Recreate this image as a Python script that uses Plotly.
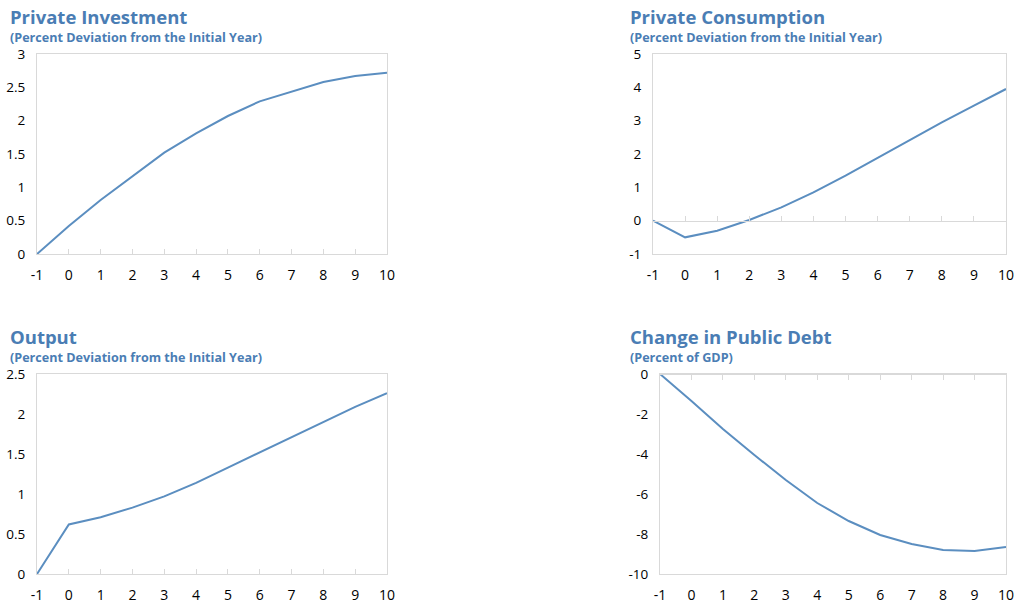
import plotly.graph_objects as go

years = [-1, 0, 1, 2, 3, 4, 5, 6, 7, 8, 9, 10]
year_labels = ["-1", "0", "1", "2", "3", "4", "5", "6", "7", "8", "9", "10"]
investment = [0, 0.42, 0.81, 1.17, 1.52, 1.81, 2.07, 2.29, 2.44, 2.58, 2.67, 2.72]
consumption = [0, -0.5, -0.3, 0.02, 0.4, 0.85, 1.35, 1.88, 2.42, 2.95, 3.45, 3.95]
output = [0, 0.62, 0.71, 0.83, 0.97, 1.14, 1.33, 1.52, 1.72, 1.91, 2.09, 2.26]
debt = [0, -1.35, -2.75, -4.05, -5.3, -6.45, -7.35, -8.05, -8.5, -8.8, -8.85, -8.65]

titles = ["Private Investment", "Private Consumption", "Output", "Change in Public Debt"]
subtitles = ["(Percent Deviation from the Initial Year)", "(Percent Deviation from the Initial Year)",
             "(Percent Deviation from the Initial Year)", "(Percent of GDP)"]
ytickvals = [[0, 0.5, 1, 1.5, 2, 2.5, 3], [-1, 0, 1, 2, 3, 4, 5],
             [0, 0.5, 1, 1.5, 2, 2.5], [-10, -8, -6, -4, -2, 0]]
yticklabels = [["0", "0.5", "1", "1.5", "2", "2.5", "3"], ["-1", "0", "1", "2", "3", "4", "5"],
               ["0", "0.5", "1", "1.5", "2", "2.5"], ["-10", "-8", "-6", "-4", "-2", "0"]]
yranges = [[0, 3], [-1, 5], [0, 2.5], [-10, 0]]
series = [investment, consumption, output, debt]

W, H = 1018, 605
# plot boxes in pixels: x0, x1, ytop, ybottom
boxes = [(37, 387, 54, 254), (653, 1006, 54, 254), (37, 387, 374, 574), (660, 1006, 374, 574)]

LINE = "#5b8ec0"
TITLE = "#4a7db4"
GRID = "#d9d9d9"
FONT = "Open Sans"

fig = go.Figure()
layout = dict(width=W, height=H, margin=dict(l=0, r=0, t=0, b=0, autoexpand=False),
              paper_bgcolor="white", plot_bgcolor="white", showlegend=False,
              font=dict(family=FONT, size=13, color="#000000"))
annotations = []

for i in range(4):
    x0, x1, yt, yb = boxes[i]
    xd = [x0 / W, x1 / W]
    yd = [1 - yb / H, 1 - yt / H]
    xn = "x" if i == 0 else f"x{i+1}"
    yn = "y" if i == 0 else f"y{i+1}"
    fig.add_trace(go.Scatter(x=years, y=series[i], mode="lines", line=dict(color=LINE, width=2),
                             xaxis=xn, yaxis=yn, hoverinfo="skip"))
    xkey = "xaxis" if i == 0 else f"xaxis{i+1}"
    ykey = "yaxis" if i == 0 else f"yaxis{i+1}"
    layout[xkey] = dict(domain=xd, anchor=yn, range=[-1, 10], tickmode="array", tickvals=years,
                        ticktext=year_labels,
                        showline=True, linecolor=GRID, linewidth=1, mirror=True, showgrid=False,
                        zeroline=False, ticks="", ticklabelstandoff=8, fixedrange=True,
                        tickfont=dict(size=14))
    layout[ykey] = dict(domain=yd, anchor=xn, range=yranges[i], tickmode="array",
                        tickvals=ytickvals[i], ticktext=yticklabels[i],
                        showline=True, linecolor=GRID, linewidth=1, mirror=True, showgrid=False,
                        zeroline=False, ticks="", ticklabelstandoff=8, fixedrange=True,
                        tickfont=dict(size=13.5))
    # overlay axis carrying the tick marks on the zero line
    lo, hi = yranges[i]
    frac = (0 - lo) / (hi - lo)
    pos = yd[0] + frac * (yd[1] - yd[0])
    okey = f"xaxis{i+5}"
    layout[okey] = dict(overlaying=xn, anchor="free", position=pos, range=[-1, 10],
                        tickmode="array", tickvals=years, showticklabels=False,
                        ticks="inside", ticklen=5, tickcolor=GRID, tickwidth=1,
                        showline=True, linecolor=GRID, linewidth=1, showgrid=False,
                        zeroline=False, side="top" if frac >= 1 else "bottom", fixedrange=True)
    fig.add_trace(go.Scatter(x=[None], y=[None], xaxis=f"x{i+5}", yaxis=yn, showlegend=False,
                             hoverinfo="skip"))
    tx = 8 if x0 < 500 else 628
    annotations.append(dict(text="<b>" + titles[i] + "</b>", x=tx / W, y=1 - (yt - 37.5) / H,
                            xref="paper", yref="paper", xanchor="left", yanchor="middle",
                            showarrow=False, font=dict(family=FONT, size=18.5, color=TITLE)))
    annotations.append(dict(text="<b>" + subtitles[i] + "</b>", x=tx / W, y=1 - (yt - 16.5) / H,
                            xref="paper", yref="paper", xanchor="left", yanchor="middle",
                            showarrow=False, font=dict(family=FONT, size=12.6, color=TITLE)))

layout["annotations"] = annotations
fig.update_layout(**layout)
fig.write_html("out.html")
